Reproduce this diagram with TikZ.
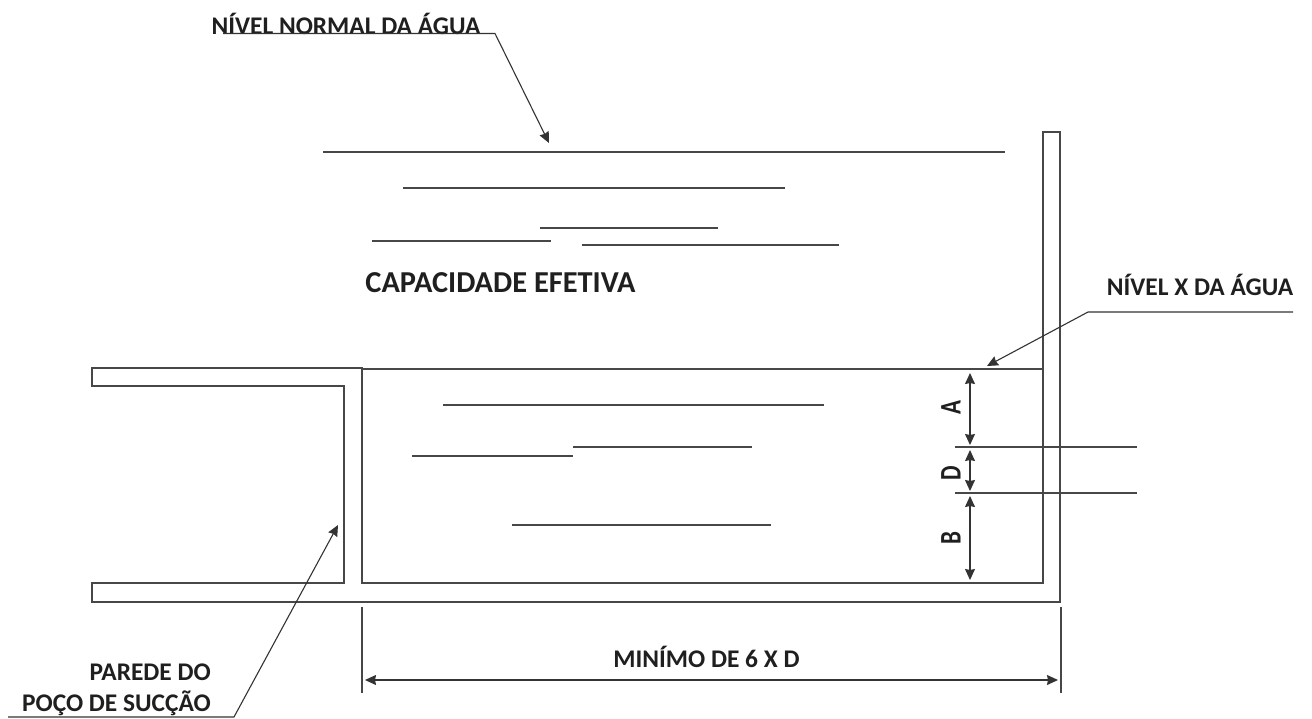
\documentclass[tikz,border=0pt]{standalone}
\usepackage{fontspec}
\setmainfont{Carlito}
\usetikzlibrary{positioning,arrows.meta}

\begin{document}
\begin{tikzpicture}[x=1pt, y=-1pt]
    \tikzset{myline/.style={draw=black!72, line width=1.3pt},
      myarrow/.style={>={Stealth[length=11pt, width=10pt, inset=1pt]}, draw=black!80, line width=1.1pt},
      mylabel/.style={inner sep=0pt, text=black!88, font=\fontsize{25.4}{30}\bfseries\selectfont},
      biglabel/.style={inner sep=0pt, text=black!88, font=\fontsize{30.4}{36}\bfseries\selectfont},
      dimlabel/.style={inner sep=0pt, rotate=90, yscale=1.3, text=black!88, font=\fontsize{23}{28}\bfseries\selectfont}}
    \useasboundingbox (0,0) rectangle (1312,718);

    % labels
    \draw node[mylabel] (normal) at (346,24) {NÍVEL NORMAL DA ÁGUA};
    \draw node[mylabel] (nivelx) at (1200,285) {NÍVEL X DA ÁGUA};
    \draw node[biglabel] (capacidade) at (500.5,283) {CAPACIDADE EFETIVA};
    \draw node[mylabel, anchor=east] (parede) at (211,672) {PAREDE DO};
    \draw node[mylabel, anchor=east] (poco) at (211,703) {POÇO DE SUCÇÃO};
    \draw node[mylabel] (minimo) at (706.5,657) {MINÍMO DE 6 X D};
    \draw node[dimlabel] (labela) at (951,408) {A};
    \draw node[dimlabel] (labeld) at (951,473) {D};
    \draw node[dimlabel] (labelb) at (951,538) {B};

    % wall
    \draw[myline] (92,368) -- (362,368) -- (362,583) -- (1043,583) -- (1043,132) -- (1060,132)
      -- (1060,602) -- (92,602) -- (92,583) -- (344,583) -- (344,386) -- (92,386) -- cycle;

    % water
    \draw[myline] (323,152) -- (1005,152);
    \draw[myline] (403,188) -- (785,188);
    \draw[myline] (540,228) -- (718,228);
    \draw[myline] (372,241) -- (551,241);
    \draw[myline] (582,245) -- (839,245);
    \draw[myline] (362,369) -- (1044,369);
    \draw[myline] (443,405) -- (824,405);
    \draw[myline] (573,447) -- (752,447);
    \draw[myline] (412,456) -- (573,456);
    \draw[myline] (512,525) -- (771,525);
    \draw[myline] (955,447) -- (1137,447);
    \draw[myline] (955,493) -- (1137,493);

    % leaders
    \coordinate (normalstart) at (223,33.5);
    \coordinate (normalbend) at (495,33.5);
    \coordinate (normalend) at (549,143);
    \coordinate (nivelstart) at (1293,312);
    \coordinate (nivelbend) at (1088,312);
    \coordinate (nivelend) at (987,366);
    \coordinate (paredestart) at (8,717);
    \coordinate (paredebend) at (234,717);
    \coordinate (paredeend) at (338,525);
    \draw[->, myarrow] (normalstart) -- (normalbend) -- (normalend);
    \draw[->, myarrow] (nivelstart) -- (nivelbend) -- (nivelend);
    \draw[->, myarrow] (paredestart) -- (paredebend) -- (paredeend);

    % dimensions
    \coordinate (dima) at (970,373);
    \coordinate (dimab) at (970,445);
    \coordinate (dimdt) at (970,450);
    \coordinate (dimdb) at (970,491);
    \coordinate (dimbt) at (970,496);
    \coordinate (dimb) at (970,580);
    \draw[<->, myarrow] (dima) -- (dimab);
    \draw[<->, myarrow] (dimdt) -- (dimdb);
    \draw[<->, myarrow] (dimbt) -- (dimb);

    \coordinate (ticklt) at (362,607);
    \coordinate (ticklb) at (362,693);
    \coordinate (tickrt) at (1061,607);
    \coordinate (tickrb) at (1061,693);
    \coordinate (minleft) at (365,680);
    \coordinate (minright) at (1058,680);
    \draw[myline] (ticklt) -- (ticklb);
    \draw[myline] (tickrt) -- (tickrb);
    \draw[<->, myarrow] (minleft) -- (minright);
  \end{tikzpicture}
\end{document}
